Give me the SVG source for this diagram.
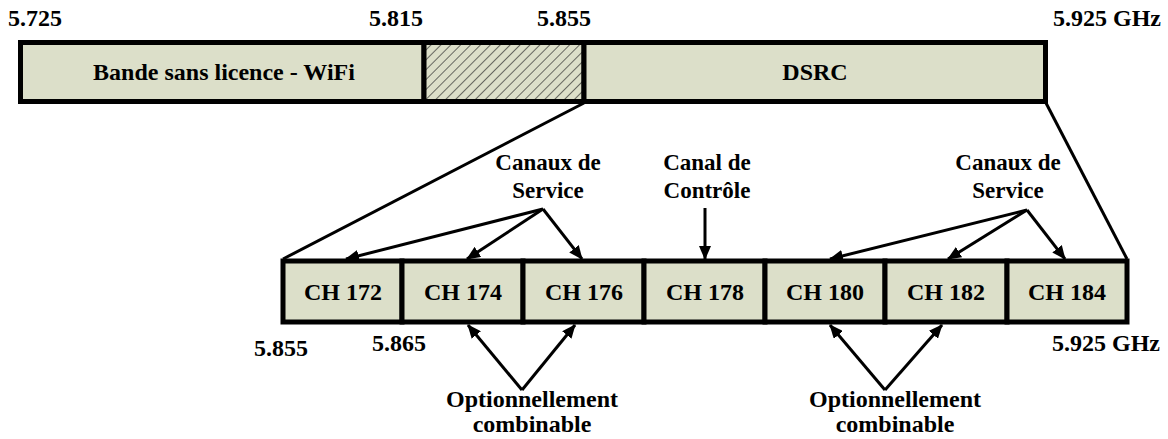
<svg xmlns="http://www.w3.org/2000/svg" width="1168" height="439" viewBox="0 0 1168 439">
<style>
text{font-family:"Liberation Serif","Times New Roman",serif;font-weight:bold;font-size:24px;fill:#000}
.c{text-anchor:middle}
.s{font-size:23px}
.band{fill:#dcdfc9;stroke:#000;stroke-width:5}
.ln{stroke:#000;stroke-width:3;fill:none}
.ar{stroke:#000;stroke-width:3;fill:none;marker-end:url(#ah)}
</style>
<defs>
<marker id="ah" markerUnits="userSpaceOnUse" markerWidth="14" markerHeight="12" refX="13" refY="6" orient="auto">
<path d="M0,0 L14,6 L0,12 z" fill="#000"/>
</marker>
<pattern id="hatch" patternUnits="userSpaceOnUse" width="7" height="7" patternTransform="rotate(45)">
<rect width="7" height="7" fill="#dcdfc9"/>
<line x1="0" y1="0" x2="0" y2="7" stroke="#333" stroke-width="1.4"/>
</pattern>
</defs>
<g id="top-labels">
<text x="8" y="26">5.725</text>
<text x="369" y="26">5.815</text>
<text x="537" y="26">5.855</text>
<text x="1053" y="26">5.925 GHz</text>
</g>
<g id="band-wifi">
<rect class="band" x="20.5" y="42.5" width="403.5" height="59"/>
<text class="c" x="224" y="80">Bande sans licence - WiFi</text>
</g>
<g id="band-hatch">
<rect class="band" x="424" y="42.5" width="160" height="59" style="fill:url(#hatch)"/>
</g>
<g id="band-dsrc">
<rect class="band" x="584" y="42.5" width="461.5" height="59"/>
<text class="c" x="815" y="80">DSRC</text>
</g>
<g id="channels">
<g id="ch172"><rect class="band" x="283" y="261" width="119" height="61"/><text class="c" x="343" y="300">CH 172</text></g>
<g id="ch174"><rect class="band" x="402" y="261" width="121" height="61"/><text class="c" x="463" y="300">CH 174</text></g>
<g id="ch176"><rect class="band" x="523" y="261" width="121" height="61"/><text class="c" x="584" y="300">CH 176</text></g>
<g id="ch178"><rect class="band" x="644" y="261" width="121" height="61"/><text class="c" x="705" y="300">CH 178</text></g>
<g id="ch180"><rect class="band" x="765" y="261" width="120" height="61"/><text class="c" x="825" y="300">CH 180</text></g>
<g id="ch182"><rect class="band" x="885" y="261" width="122" height="61"/><text class="c" x="946" y="300">CH 182</text></g>
<g id="ch184"><rect class="band" x="1007" y="261" width="120" height="61"/><text class="c" x="1067" y="300">CH 184</text></g>
</g>
<g id="bottom-labels">
<text x="254" y="356">5.855</text>
<text x="372" y="351">5.865</text>
<text x="1052" y="351">5.925 GHz</text>
</g>
<g id="label-service-left">
<text class="c s" x="548" y="170">Canaux de</text>
<text class="c s" x="548" y="198">Service</text>
</g>
<g id="label-control">
<text class="c s" x="707" y="170">Canal de</text>
<text class="c s" x="707" y="198">Contrôle</text>
</g>
<g id="label-service-right">
<text class="c s" x="1008" y="170">Canaux de</text>
<text class="c s" x="1008" y="198">Service</text>
</g>
<g id="label-comb-left">
<text class="c" x="532" y="407">Optionnellement</text>
<text class="c" x="532" y="432">combinable</text>
</g>
<g id="label-comb-right">
<text class="c" x="895" y="407">Optionnellement</text>
<text class="c" x="895" y="432">combinable</text>
</g>
<g id="connectors">
<line class="ln" x1="584" y1="103" x2="283" y2="259"/>
<line class="ln" x1="1046" y1="103" x2="1127" y2="259"/>
<line class="ar" x1="543" y1="209" x2="346" y2="259"/>
<line class="ar" x1="543" y1="209" x2="467" y2="259"/>
<line class="ar" x1="543" y1="209" x2="582" y2="259"/>
<line class="ar" x1="705" y1="208" x2="705" y2="259"/>
<line class="ar" x1="1027" y1="210" x2="830" y2="259"/>
<line class="ar" x1="1027" y1="210" x2="948" y2="259"/>
<line class="ar" x1="1027" y1="210" x2="1065" y2="259"/>
<line class="ar" x1="522" y1="390" x2="468" y2="325"/>
<line class="ar" x1="522" y1="390" x2="575" y2="325"/>
<line class="ar" x1="885" y1="390" x2="830" y2="325"/>
<line class="ar" x1="885" y1="390" x2="942" y2="325"/>
</g>
</svg>
